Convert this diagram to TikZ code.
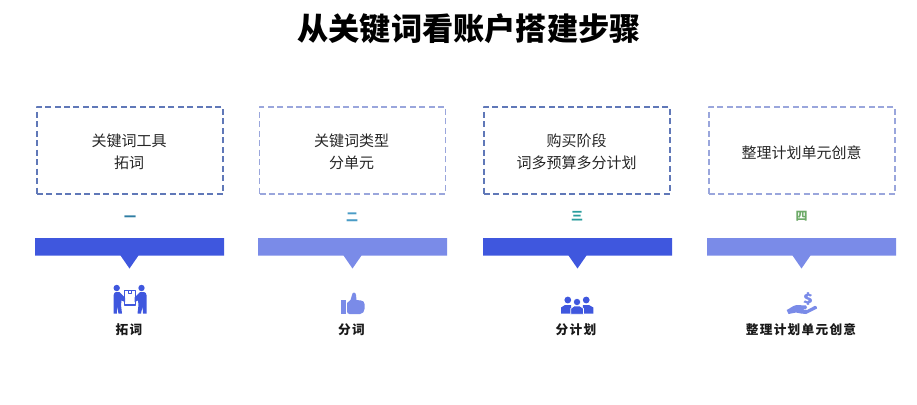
\documentclass[tikz,border=0pt]{standalone}
\usepackage{fontspec}
\setmainfont{Noto Sans CJK SC}
\newfontfamily\cjkspaced[LetterSpace=10]{Noto Sans CJK SC}
\newfontfamily\cjkheavy[BoldFeatures={FakeBold=1.5}]{Noto Sans CJK SC}
\definecolor{darkblue}{HTML}{3F57DE}
\definecolor{lightblue}{HTML}{7A8BE8}
\definecolor{darkdash}{HTML}{6078B8}
\definecolor{lightdash}{HTML}{9AA6DC}
\definecolor{numa}{HTML}{2F7DA3}
\definecolor{numb}{HTML}{4A9CC6}
\definecolor{numc}{HTML}{2A9D9D}
\definecolor{numd}{HTML}{6DAA68}
\begin{document}
\begin{tikzpicture}[x=0.75pt,y=-0.75pt,line join=round,line cap=butt]
		\tikzset{dash box/.style={draw,line width=0.9pt,dash pattern=on 4.5pt off 2.6pt,minimum width=139.5pt,minimum height=65.25pt}}
		\tikzset{box text/.style={font=\fontsize{11.25}{16.5}\selectfont,text=black!85,align=center}}
		\tikzset{num label/.style={font=\fontsize{9}{10}\selectfont\bfseries}}
		\tikzset{foot label/.style={font=\cjkspaced\fontsize{9.5}{12}\selectfont\bfseries,text=black!90}}
		\useasboundingbox (0,0) rectangle (917,404);
		\node[font=\fontsize{23.4}{30}\selectfont\bfseries] (title) at (469,28.5) {从关键词看账户搭建步骤};
		% boxes
		\node[dash box,draw=darkdash] (box1) at (130,150.5) {};
		\node[dash box,draw=lightdash] (box2) at (352.5,150.5) {};
		\node[dash box,draw=darkdash] (box3) at (577,150.5) {};
		\node[dash box,draw=lightdash] (box4) at (802,150.5) {};
		\node[box text] (text1) at (129,152) {关键词工具\\拓词};
		\node[box text] (text2) at (351.5,152) {关键词类型\\分单元};
		\node[box text] (text3) at (576.5,152) {购买阶段\\词多预算多分计划};
		\node[box text] (text4) at (801.5,152.5) {整理计划单元创意};
		% numbers
		\node[num label,text=numa] (num1) at (130,218.5) {一};
		\node[num label,text=numb] (num2) at (352,217) {二};
		\node[num label,text=numc] (num3) at (577,216.5) {三};
		\node[num label,text=numd] (num4) at (801.5,216.5) {四};
		% bars
		\foreach \xc/\col in {129.5/darkblue,352.5/lightblue,577.5/darkblue,801.5/lightblue}{
			\fill[\col] (\xc-94.5,238)--(\xc+94.5,238)--(\xc+94.5,255.5)--(\xc+9,255.5)--(\xc,268.5)--(\xc-9,255.5)--(\xc-94.5,255.5)--cycle;
		}
		% icon 1
		\begin{scope}[darkblue]
		\fill (116.7,288) circle (3.2);
		\fill (141.5,288) circle (3.2);
		\fill (113.7,295) to[out=80,in=180] (116,292) -- (119.5,292) -- (125,297.5) -- (125,302) -- (121.5,300.5) -- (121,305) -- (122,313.5) -- (118.5,313.5) -- (117,306.5) -- (116.8,313.5) -- (113.7,313.5) -- cycle;
		\fill (146.5,295) to[out=100,in=0] (144,292) -- (140,292) -- (134.5,297.5) -- (134.5,302) -- (138,300.5) -- (138.5,305) -- (137.5,313.5) -- (141,313.5) -- (142.5,306.5) -- (143,313.5) -- (146.5,313.5) -- cycle;
		\draw[line width=0.8pt] (124.5,290.5) rectangle (135.5,305);
		\draw[line width=0.7pt] (128.5,290.5) -- (128.5,293.5) -- (131.5,293.5) -- (131.5,290.5);
		\end{scope}
		% icon 2
		\begin{scope}[lightblue]
		\fill (341,299.5) rectangle (345.5,314);
		\fill (347,303) -- (350.5,300) -- (352,295) to[out=80,in=180] (354,292.5) to[out=0,in=100] (356,295) -- (356.5,300) -- (361,300.5) to[out=0,in=90] (364.5,304) -- (364.5,309) to[out=-90,in=0] (360,314) -- (349.5,314) to[out=180,in=-90] (347,311.5) -- cycle;
		\end{scope}
		% icon 3
		\begin{scope}[darkblue]
		\fill (567.8,300) circle (3.4);
		\fill (586.2,300) circle (3.4);
		\fill (561,313.5) -- (561,307.5) -- (565,305) -- (571,305) -- (572,313.5) -- cycle;
		\fill (582,313.5) -- (583,305) -- (589,305) -- (593.3,307.5) -- (593.3,313.5) -- cycle;
		\draw[white,line width=0.5pt,fill=darkblue] (570.7,314.3) -- (570.7,308.5) -- (574,306) -- (580,306) -- (583.5,308.5) -- (583.5,314.3) -- cycle;
		\draw[white,line width=0.4pt,fill=darkblue] (577,302) circle (3.6);
		\end{scope}
		% icon 4
		\begin{scope}[lightblue]
		\node[font=\cjkheavy\fontsize{9.5}{10}\selectfont\bfseries,inner sep=0pt,text=lightblue,xscale=1.3] (dollar) at (808,298.5) {\$};
		\fill (786.7,310) to[out=25,in=190] (796.7,305) -- (806,305.5) to[out=0,in=0] (806,309) -- (801,309.5) -- (807,310) -- (815,305.8) to[out=0,in=40] (817,308.5) -- (806,314) to[out=190,in=0] (796,312.5) -- (788.5,314) -- cycle;
		\end{scope}
		% labels
		\node[foot label] (foot1) at (129,330) {拓词};
		\node[foot label] (foot2) at (351.5,330) {分词};
		\node[foot label] (foot3) at (576,330) {分计划};
		\node[foot label] (foot4) at (801,330) {整理计划单元创意};
\end{tikzpicture}
\end{document}
